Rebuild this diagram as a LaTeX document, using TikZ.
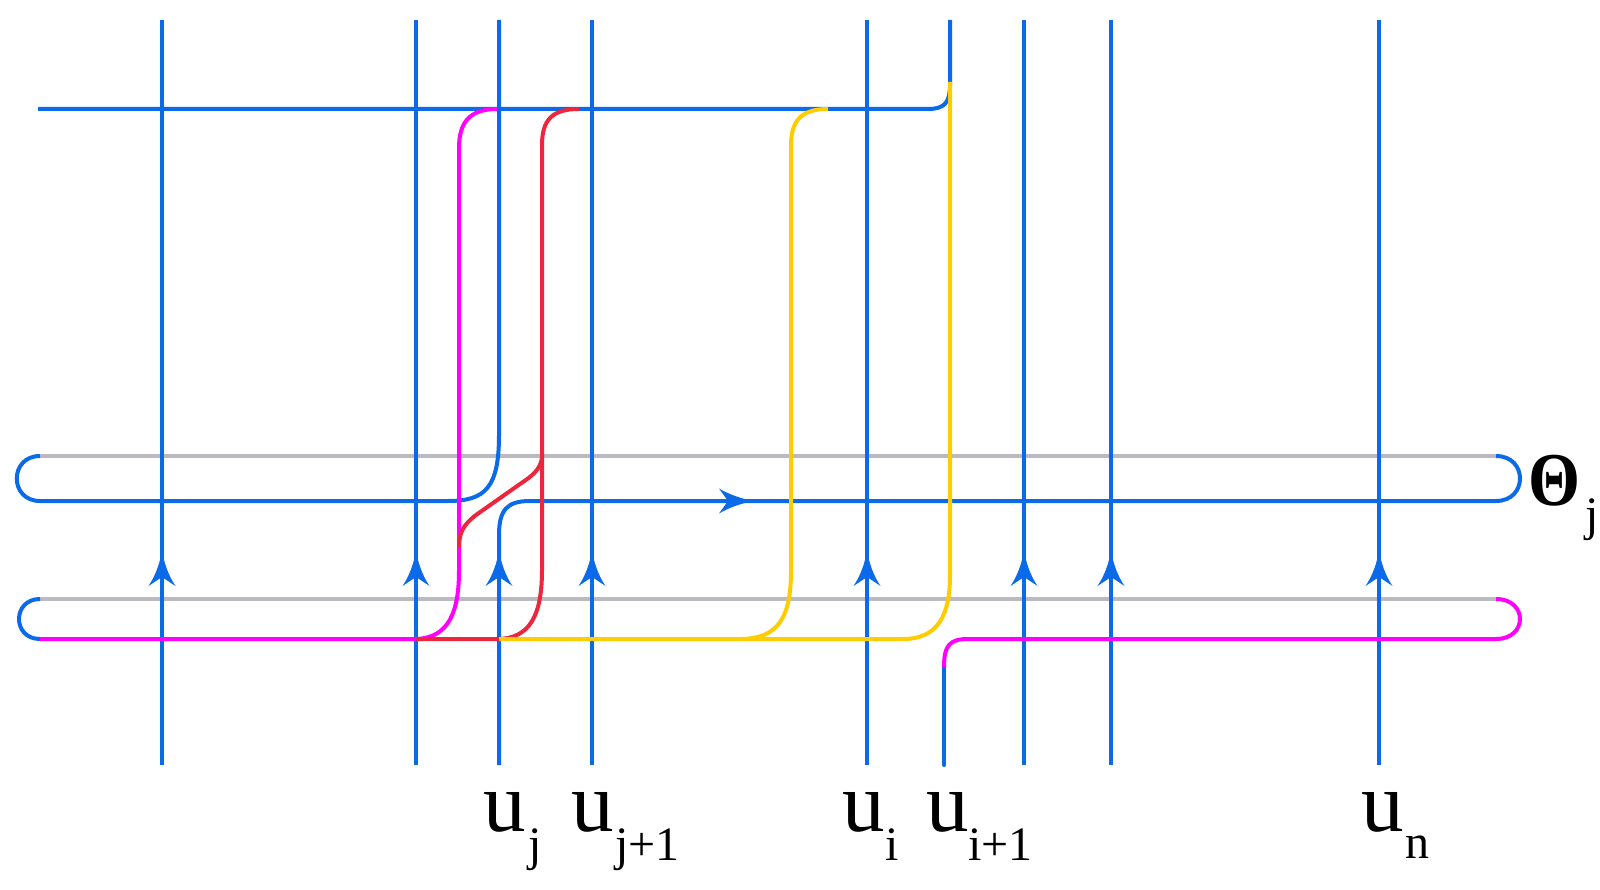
\documentclass[tikz,border=0pt]{standalone}
\usepackage{fontspec}
\setmainfont{Liberation Serif}
\definecolor{kblue}{RGB}{10,106,232}
\definecolor{kmag}{RGB}{255,0,255}
\definecolor{kred}{RGB}{236,38,60}
\definecolor{kyel}{RGB}{255,204,0}
\definecolor{kgrey}{RGB}{186,186,192}
\tikzset{
  strand/.style={line width=4pt},
  bl/.style={strand,draw=kblue},
  mg/.style={strand,draw=kmag},
  rd/.style={strand,draw=kred},
  yl/.style={strand,draw=kyel},
  gr/.style={line width=3.6pt,draw=kgrey},
  lab/.style={inner sep=0pt,anchor=base west,font=\fontsize{85}{85}\selectfont},
  sublab/.style={inner sep=0pt,anchor=base west,font=\fontsize{48}{48}\selectfont},
  uparr/.pic={\fill[kblue] (0,0) .. controls (2,11) and (6,24) .. (13.5,35) -- (0,26) -- (-13.5,35) .. controls (-6,24) and (-2,11) .. (0,0) -- cycle;},
  rtarr/.pic={\fill[kblue] (0,0) .. controls (-10,2) and (-23,6) .. (-34,12.5) -- (-25,0) -- (-34,-12.5) .. controls (-23,-6) and (-10,-2) .. (0,0) -- cycle;}
}
\begin{document}
\begin{tikzpicture}[x=1pt,y=-1pt]
\useasboundingbox (0,0) rectangle (1600,890);
% grey lines
\draw[gr] (40,456) -- (1496,456);
\draw[gr] (40,599) -- (1496,599);
% top blue line
\draw[bl] (38,109) -- (928,109) .. controls (945,109) and (950,102) .. (950,85) -- (950,20);
% Theta loop with u_j
\draw[bl] (499,20) -- (499,435) .. controls (499,488) and (485,501) .. (448,501) -- (40,501) .. controls (9,501) and (9,456) .. (40,456);
\draw[bl] (1496,456) .. controls (1528,456) and (1528,501) .. (1496,501) -- (530,501) .. controls (507,501) and (499,510) .. (499,535) -- (499,765);
% lower left cap
\draw[bl] (40,599) .. controls (12,599) and (12,639) .. (40,639);
% verticals
\foreach \x in {162,416,592,867,1024,1111,1379} {\draw[bl] (\x,20) -- (\x,765);}
\draw[bl,line cap=round] (944,765) -- (944,667);
% arrows
\foreach \x in {162,416,499,592,867,1024,1111,1379} {\pic at (\x,551) {uparr};}
\pic at (753,501) {rtarr};
% magenta
\draw[mg] (40,639) -- (414,639) .. controls (450,639) and (459,610) .. (459,570) -- (459,148) .. controls (459,122) and (470,109) .. (497,109);
\draw[mg] (944,667) .. controls (944,645) and (950,639) .. (968,639) -- (1496,639) .. controls (1528,639) and (1528,599) .. (1496,599);
% red
\draw[rd] (416,639) -- (497,639) .. controls (530,639) and (542,615) .. (542,570) -- (542,145) .. controls (542,120) and (552,109) .. (579,109);
\draw[rd] (542,458) .. controls (540,470) and (532,476) .. (520,484) -- (476,515) .. controls (463,525) and (459,533) .. (459,548);
% yellow
\draw[yl] (499,639) -- (903,639) .. controls (938,639) and (950,615) .. (950,575) -- (950,82);
\draw[yl] (740,639) .. controls (780,639) and (791,615) .. (791,570) -- (791,145) .. controls (791,120) and (802,109) .. (828,109);
% labels
\node[lab] (uj) at (483,831) {u};
\node[sublab] (ujs) at (528,860) {j};
\node[lab] (uj1) at (571,831) {u};
\node[sublab] (uj1s) at (615,860) {j+1};
\node[lab] (ui) at (842,831) {u};
\node[sublab] (uis) at (885,860) {i};
\node[lab] (ui1) at (926,831) {u};
\node[sublab] (ui1s) at (968,860) {i+1};
\node[lab] (un) at (1361,831) {u};
\node[sublab] (uns) at (1405,858) {n};
\node[inner sep=0pt,anchor=base west,font=\fontsize{76}{76}\selectfont\bfseries] (th) at (1528,505) {\scalebox{0.88}[1]{Θ}};
\node[sublab] (ths) at (1585,530) {j};
\end{tikzpicture}
\end{document}
